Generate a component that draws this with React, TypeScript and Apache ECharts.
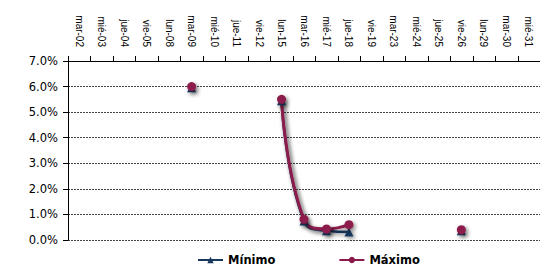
import React, { useEffect, useRef } from "react";
import * as echarts from "echarts";

const categories = ["mar-02","mié-03","jue-04","vie-05","lun-08","mar-09","mié-10","jue-11","vie-12","lun-15","mar-16","mié-17","jue-18","vie-19","mar-23","mié-24","jue-25","vie-26","lun-29","mar-30","mié-31"];
const minimo: (number | null)[] = [null,null,null,null,null,5.95,null,null,null,5.45,0.74,0.36,0.31,null,null,null,null,0.36,null,null,null];
const maximo: (number | null)[] = [null,null,null,null,null,6.0,null,null,null,5.5,0.81,0.43,0.6,null,null,null,null,0.4,null,null,null];
const yTicks = [0, 1, 2, 3, 4, 5, 6, 7];

export default function App() {
  const ref = useRef<HTMLDivElement>(null);
  useEffect(() => {
    const chart = echarts.init(ref.current!, null, { renderer: "svg" });
    const shadow = { shadowColor: "rgba(0,0,0,0.45)", shadowBlur: 4, shadowOffsetX: 2, shadowOffsetY: 2 };
    chart.setOption({
      animation: false,
      textStyle: { fontFamily: "Liberation Sans, Arial, sans-serif" },
      grid: { left: 68, right: -6, top: 61, bottom: 26, containLabel: false },
      legend: {
        left: 197,
        top: 254,
        padding: 0,
        itemGap: 63,
        itemWidth: 25,
        itemHeight: 8,
        textStyle: { fontFamily: "DejaVu Sans", fontWeight: "bold", fontSize: 11.5, color: "#000" },
        data: ["Mínimo", "Máximo"],
      },
      xAxis: {
        type: "category",
        position: "top",
        data: categories,
        boundaryGap: true,
        axisLine: { onZero: false, lineStyle: { color: "#000", width: 1 } },
        axisTick: { show: false },
        axisLabel: { rotate: 90, fontSize: 10, color: "#000", margin: 14, interval: 0 },
        splitLine: { show: false },
      },
      yAxis: {
        type: "value",
        min: 0,
        max: 7,
        interval: 1,
        axisLine: { show: true, lineStyle: { color: "#000", width: 1 } },
        axisTick: { show: true, inside: false, length: 5, lineStyle: { color: "#000" } },
        axisLabel: {
          fontFamily: "DejaVu Sans",
          fontSize: 11.5,
          color: "#000",
          margin: 10,
          formatter: (v: number) => (yTicks.includes(v) ? v.toFixed(1) + "%" : ""),
        },
        splitLine: { show: true, lineStyle: { color: "#444", type: [2, 1], width: 1 } },
      },
      series: [
        {
          name: "Mínimo",
          type: "line",
          data: minimo,
          smooth: true,
          connectNulls: false,
          symbol: "triangle",
          symbolSize: 9,
          color: "#17375E",
          lineStyle: { width: 2.5, color: "#17375E", ...shadow },
          itemStyle: { color: "#17375E", ...shadow },
        },
        {
          name: "Máximo",
          type: "line",
          data: maximo,
          smooth: true,
          connectNulls: false,
          symbol: "circle",
          symbolSize: 9,
          color: "#8B1A4B",
          lineStyle: { width: 3, color: "#8B1A4B", ...shadow },
          itemStyle: { color: "#8B1A4B", ...shadow },
        },
      ],
    });
    // category boundary ticks on the top axis, placed through the library's scales
    const x0 = chart.convertToPixel({ xAxisIndex: 0 }, 0) as number;
    const x1 = chart.convertToPixel({ xAxisIndex: 0 }, 1) as number;
    const yTop = chart.convertToPixel({ yAxisIndex: 0 }, 7) as number;
    const w = x1 - x0;
    const ticks = [];
    for (let i = 0; i <= categories.length; i++) {
      const x = Math.round(x0 - w / 2 + i * w) + 0.5;
      ticks.push({
        type: "line",
        silent: true,
        shape: { x1: x, y1: yTop - 5, x2: x, y2: yTop },
        style: { stroke: "#000", lineWidth: 1 },
      });
    }
    chart.setOption({ graphic: ticks });
    return () => chart.dispose();
  }, []);
  return (
    <div
      ref={ref}
      style={{ position: "fixed", left: 0, top: 0, width: 540, height: 266, background: "#fff" }}
    />
  );
}
